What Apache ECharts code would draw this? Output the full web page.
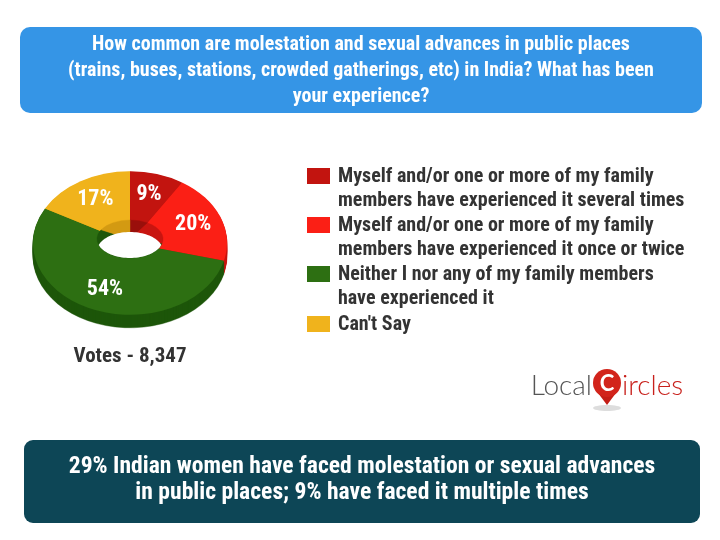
<!DOCTYPE html>
<html><head><meta charset="utf-8">
<script src="https://cdn.jsdelivr.net/npm/echarts@6/dist/echarts.min.js"></script>
<style>html,body{margin:0;padding:0;background:#fff}#c{width:720px;height:540px}</style>
</head><body><div id="c"></div>
<script>
const categories = [
  "Myself and/or one or more of my family\nmembers have experienced it several times",
  "Myself and/or one or more of my family\nmembers have experienced it once or twice",
  "Neither I nor any of my family members\nhave experienced it",
  "Can't Say"
];
const values = [9, 20, 54, 17];
const topColors = ["#c2140f", "#fb1f15", "#2d6f12", "#f0b31c"];
const sideColors = ["#9a0f0b", "#c81510", "#1d560a", "#d39a12"];
const titleLines = [
  "How common are molestation and sexual advances in public places",
  "(trains, buses, stations, crowded gatherings, etc) in India? What has been",
  "your experience?"
];
const votesText = "Votes - 8,347";
const footerLines = [
  "29% Indian women have faced molestation or sexual advances",
  "in public places; 9% have faced it multiple times"
];

const FONT = "'Roboto Condensed', 'Liberation Sans Narrow', Roboto, sans-serif";
const total = values.reduce((a, b) => a + b, 0);
const cum = [];
values.reduce((acc, v, i) => { cum[i] = acc; return acc + v; }, 0);

const CX = 130, CY = 243, R = 97, SY = 0.74, DEPTH = 13;
const HCY = 239, HR = 33, HRY = 19, HD = 12;

function holePoints() {
  const s = HD / (2 * HRY), a = Math.asin(s), pts = [], n = 40;
  for (let k = 0; k <= n; k++) {
    const t = Math.PI + a + (Math.PI - 2 * a) * k / n;
    pts.push([CX + HR * Math.cos(t), HCY + HD + HRY * Math.sin(t)]);
  }
  for (let k = 0; k <= n; k++) {
    const u = a + (Math.PI - 2 * a) * k / n;
    pts.push([CX + HR * Math.cos(u), HCY + HRY * Math.sin(u)]);
  }
  return pts;
}

function renderItem(params, api) {
  const i = params.dataIndex;
  const v = api.value(0);
  const sa = -Math.PI / 2 + (cum[i] / total) * Math.PI * 2;
  const ea = sa + (v / total) * Math.PI * 2;
  const children = [];
  for (let t = DEPTH; t >= 1; t--) {
    children.push({
      type: 'sector', z2: 1,
      shape: { cx: CX, cy: CY, r: R, r0: 0, startAngle: sa, endAngle: ea, clockwise: true },
      originX: CX, originY: CY, scaleY: SY, y: t,
      style: { fill: sideColors[i], stroke: sideColors[i], lineWidth: 0.5 }
    });
  }
  children.push({
    type: 'sector', z2: 10,
    shape: { cx: CX, cy: CY, r: R, r0: 0, startAngle: sa, endAngle: ea, clockwise: true },
    originX: CX, originY: CY, scaleY: SY,
    style: { fill: topColors[i] }
  });
  // inner wall of the hole
  children.push({
    type: 'sector', z2: 11,
    shape: { cx: CX, cy: HCY, r: HR, r0: 0, startAngle: sa, endAngle: ea, clockwise: true },
    originX: CX, originY: HCY, scaleY: HRY / HR,
    style: { fill: sideColors[i], stroke: sideColors[i], lineWidth: 0.5 }
  });
  if (i === 0) {
    children.push({ type: 'polygon', z2: 12, shape: { points: holePoints() }, style: { fill: '#fff' } });
  }
  const ma = (sa + ea) / 2, lr = 68;
  children.push({
    type: 'text', z2: 20,
    x: CX + lr * Math.cos(ma), y: CY + lr * SY * Math.sin(ma),
    style: { text: v + '%', fill: '#fff', font: 'bold 22px ' + FONT, align: 'center', verticalAlign: 'middle' }
  });
  return { type: 'group', children };
}

const graphics = [];
graphics.push({ type: 'rect', shape: { x: 20, y: 27, width: 682, height: 86, r: 10 }, style: { fill: '#3595e6' }, z: 0 });
graphics.push({ type: 'text', x: 361, y: 32, z: 1,
  style: { text: titleLines.join('\n'), fill: '#fff', font: 'bold 20px ' + FONT, align: 'center', verticalAlign: 'top', lineHeight: 26 } });
graphics.push({ type: 'rect', shape: { x: 24, y: 440, width: 676, height: 83, r: 9 }, style: { fill: '#0d4656' }, z: 0 });
graphics.push({ type: 'text', x: 362, y: 454, z: 1,
  style: { text: footerLines.join('\n'), fill: '#fff', font: 'bold 23.6px ' + FONT, align: 'center', verticalAlign: 'top', lineHeight: 26 } });
graphics.push({ type: 'text', x: 130, y: 357, z: 1,
  style: { text: votesText, fill: '#333', font: 'bold 21px ' + FONT, align: 'center', verticalAlign: 'middle' } });

const itemTops = [168, 217, 266, 316];
categories.forEach((c, i) => {
  graphics.push({ type: 'rect', shape: { x: 307, y: itemTops[i], width: 23, height: 16 }, style: { fill: topColors[i] } });
  graphics.push({ type: 'text', x: 338, y: itemTops[i] - 3,
    style: { text: c, fill: '#333', font: 'bold 20px ' + FONT, align: 'left', verticalAlign: 'top', lineHeight: 24 } });
});

// LocalCircles logo
graphics.push({ type: 'text', x: 592, y: 386, style: { text: 'Local', fill: '#555', font: '300 28px Lato, sans-serif', align: 'right', verticalAlign: 'middle' } });
graphics.push({ type: 'ellipse', shape: { cx: 607, cy: 408, rx: 14, ry: 3 }, style: { fill: '#ddd' } });
graphics.push({ type: 'polygon', shape: { points: [[598, 393], [616, 393], [607, 405]] }, style: { fill: '#c41e16' } });
graphics.push({ type: 'circle', shape: { cx: 607, cy: 383, r: 14 }, style: { fill: '#d2241b' } });
graphics.push({ type: 'text', x: 607, y: 384, style: { text: 'C', fill: '#fff', font: 'bold 22px Lato, sans-serif', align: 'center', verticalAlign: 'middle' } });
graphics.push({ type: 'text', x: 622, y: 386, style: { text: 'ircles', fill: '#c8201b', font: '300 28px Lato, sans-serif', align: 'left', verticalAlign: 'middle' } });

const chart = echarts.init(document.getElementById('c'), null, { renderer: 'canvas' });
chart.setOption({
  backgroundColor: '#fff',
  animation: false,
  series: [{
    type: 'custom',
    coordinateSystem: 'none',
    renderItem: renderItem,
    data: values.map((v, i) => ({ name: categories[i], value: [v] }))
  }],
  graphic: graphics
});
</script></body></html>
